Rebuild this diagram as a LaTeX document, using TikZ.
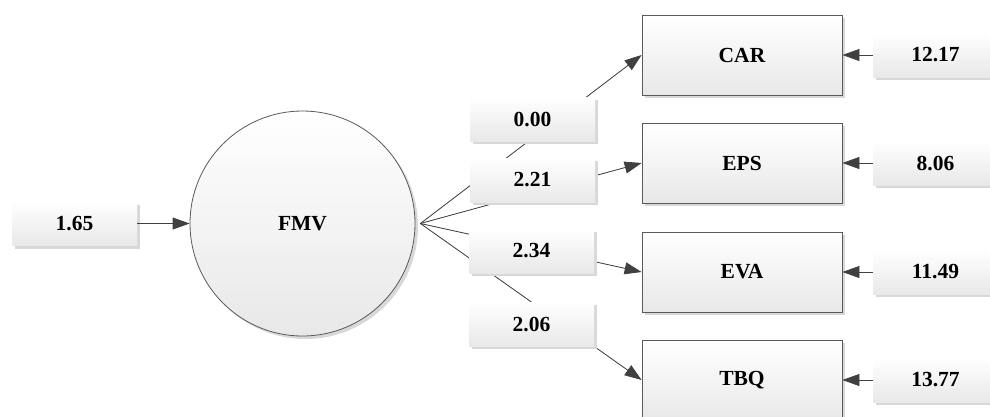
\documentclass[tikz,border=0pt]{standalone}
\usepackage{fontspec}
\setmainfont{Liberation Serif}
\usetikzlibrary{arrows.meta,shadows}
\definecolor{edgegrey}{HTML}{404040}
\definecolor{boxline}{HTML}{5A5A5A}
\definecolor{shadegrey}{HTML}{E8E8E8}
\definecolor{shadowgrey}{HTML}{D8D8D8}
\begin{document}
\begin{tikzpicture}[x=1pt,y=-1pt,
  every node/.style={font=\fontsize{21.5}{25}\selectfont\bfseries, inner sep=0pt},
  softshadow/.style={drop shadow={shadow xshift=3pt, shadow yshift=-3pt, fill=shadowgrey, opacity=1}},
  valbox/.style={rectangle, minimum width=125pt, minimum height=44pt,
    top color=white, bottom color=shadegrey, softshadow},
  indbox/.style={rectangle, draw=boxline, line width=0.8pt, minimum width=200pt,
    minimum height=80pt, top color=white, bottom color=shadegrey, softshadow},
  latent/.style={circle, draw=boxline, line width=0.8pt, minimum size=225pt,
    top color=white, bottom color=shadegrey, softshadow},
  link/.style={draw=edgegrey, line width=0.8pt},
  arr/.style={link, -{Triangle[length=17pt,width=12pt]}, fill=edgegrey}
]
\clip (0,0) rectangle (990,416);

% latent factor and its disturbance
\node[latent] (FMV) at (302.5,223.5) {FMV};
\node[valbox] (e0) at (74.5,223.5) {1.65};

% observed indicators
\node[indbox] (CAR) at (742,55)  {CAR};
\node[indbox] (EPS) at (742,163) {EPS};
\node[indbox] (EVA) at (742,272) {EVA};
\node[indbox] (TBQ) at (742,380) {TBQ};

% error terms
\node[valbox] (eCAR) at (935.5,55)  {12.17};
\node[valbox] (eEPS) at (935.5,163) {8.06};
\node[valbox] (eEVA) at (935.5,272) {11.49};
\node[valbox] (eTBQ) at (935.5,380) {13.77};

% connectors
\coordinate (fan) at ([xshift=5pt]FMV.east);
\draw[arr] (e0.east) -- (FMV.west);
\draw[arr] (fan) -- (CAR.west);
\draw[arr] (fan) -- (EPS.west);
\draw[arr] (fan) -- (EVA.west);
\draw[arr] (fan) -- (TBQ.west);
\draw[arr] (eCAR.west) -- (CAR.east);
\draw[arr] (eEPS.west) -- (EPS.east);
\draw[arr] (eEVA.west) -- (EVA.east);
\draw[arr] (eTBQ.west) -- (TBQ.east);

% loadings, set over the paths
\node[valbox] (wCAR) at (532.5,119) {0.00};
\node[valbox] (wEPS) at (532.5,180) {2.21};
\node[valbox] (wEVA) at (531.5,251) {2.34};
\node[valbox] (wTBQ) at (531.5,324) {2.06};
\end{tikzpicture}
\end{document}
